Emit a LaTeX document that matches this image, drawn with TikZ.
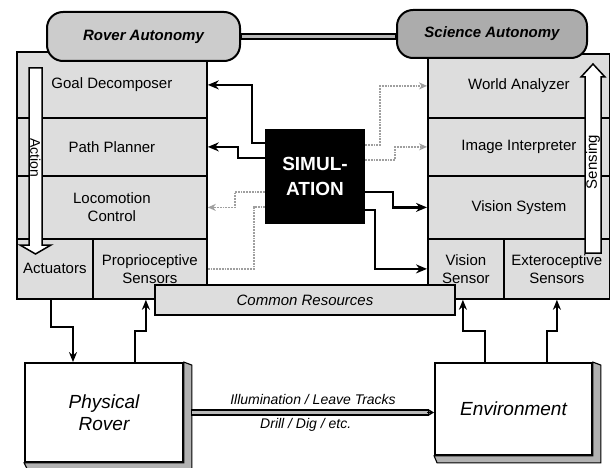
\documentclass[tikz,border=0pt]{standalone}
\usepackage{fontspec}
\setmainfont{Liberation Sans}
\usetikzlibrary{arrows.meta,calc}
\newcommand\lblfont{\fontsize{15}{18}\selectfont}
\begin{document}
\begin{tikzpicture}[x=1pt,y=-1pt,
 cell/.style={draw, line width=1.8pt, fill=gray!27, inner sep=0pt, align=center, font=\lblfont, anchor=north west},
 pill/.style={draw, line width=2pt, rounded corners=16pt, inner sep=0pt, font=\lblfont\bfseries\itshape},
 solidarr/.style={line width=2.3pt, -{Stealth[length=11pt,width=9pt]}},
 dotline/.style={gray!75, line width=1.8pt, densely dotted},
 dotarr/.style={dotline, -{Stealth[length=8pt,width=7pt]}},
 linkarr/.style={line width=2pt, -{Stealth[length=10pt,width=8pt]}},
 flowarrow/.style={draw=black, line width=1.5pt, fill=white},
 band/.style={draw=black, line width=1.1pt, fill=gray!55},
 bigbox/.style={draw, line width=1.8pt, fill=white, inner sep=0pt, align=center, font=\fontsize{19}{22}\selectfont\itshape},
 shade/.style={draw, line width=1.1pt, fill=gray!60},
 conlabel/.style={font=\fontsize{14}{16}\selectfont\itshape, inner sep=3pt}
]
\useasboundingbox (0,0) rectangle (610,468);

% left stack
\node[cell, minimum width=190pt, minimum height=66pt] (goal) at (16,51) {Goal Decomposer};
\node[cell, minimum width=190pt, minimum height=58pt] (path) at (16,117) {Path Planner};
\node[cell, minimum width=190pt, minimum height=63pt] (loco) at (16,175) {Locomotion\\Control};
\node[cell, minimum width=76pt, minimum height=60pt] (act) at (16,238) {Actuators};
\node[cell, minimum width=114pt, minimum height=60pt] (prop) at (92,238) {Proprioceptive\\Sensors};

% right stack
\node[cell, minimum width=182pt, minimum height=64pt] (world) at (427,53) {World Analyzer};
\node[cell, minimum width=182pt, minimum height=58pt] (image) at (427,117) {Image Interpreter};
\node[cell, minimum width=182pt, minimum height=63pt] (vsys) at (427,175) {Vision System};
\node[cell, minimum width=76pt, minimum height=60pt] (vsens) at (427,238) {Vision\\Sensor};
\node[cell, minimum width=106pt, minimum height=60pt] (extero) at (503,238) {Exteroceptive\\Sensors};

% action / sensing arrows
\draw[flowarrow] (29,68) -- (42,68) -- (42,245) -- (51,245) -- (35.5,254) -- (20,245) -- (29,245) -- cycle;
\node[rotate=-90, font=\fontsize{14}{14}\selectfont, inner sep=0pt] (actlbl) at (35.5,158) {Action};
\draw[flowarrow] (585,253) -- (601,253) -- (601,77) -- (605,77) -- (593,64) -- (581,77) -- (585,77) -- cycle;
\node[rotate=90, font=\fontsize{15}{15}\selectfont, inner sep=0pt] (senslbl) at (593,162) {Sensing};

% autonomy pills
\node[pill, fill=gray!40, minimum width=193pt, minimum height=49pt] (rauto) at (143.5,36.5) {Rover Autonomy};
\node[pill, fill=gray!65, minimum width=190pt, minimum height=48pt] (sauto) at (492,34) {Science Autonomy};
\path[band] ([yshift=2.5pt]rauto.east) rectangle ([yshift=-2.5pt]rauto.east -| sauto.west);

% common resources
\node[draw, line width=1.8pt, fill=gray!27, minimum width=300pt, minimum height=30pt, inner sep=0pt,
      font=\lblfont\itshape] (common) at (305,300) {Common Resources};

% simulation
\node[fill=black, text=white, minimum width=100pt, minimum height=95pt, inner sep=0pt, align=center,
      font=\fontsize{19}{25}\selectfont\bfseries] (sim) at (315,176.5) {SIMUL-\\ATION};

% simulation connectors, left
\draw[solidarr] ([yshift=-14pt]sim.north west) -- ++(-13,0) |- (goal.east);
\draw[solidarr] ([yshift=-29pt]sim.north west) -- ++(-27,0) |- (path.east);
\draw[dotarr] ([yshift=-63pt]sim.north west) -- ++(-30,0) |- (loco.east);
\draw[dotline] (prop.east) -- ++(46,0) |- ([yshift=-78pt]sim.north west);
% simulation connectors, right
\draw[dotarr] ([yshift=-16pt]sim.north east) -- ++(15,0) |- (world.west);
\draw[dotarr] ([yshift=-31pt]sim.north east) -- ++(30,0) |- (image.west);
\draw[solidarr] ([yshift=-63pt]sim.north east) -- ++(28,0) |- (vsys.west);
\draw[solidarr] ([yshift=-81pt]sim.north east) -- ++(10,0) |- (vsens.west);

% physical rover and environment
\node[bigbox, minimum width=158pt, minimum height=99pt] (rover) at (104,412.5) {Physical\\Rover};
\path[shade] (rover.north east) -- ([shift={(8pt,-3pt)}]rover.north east) -- ([shift={(8pt,-6pt)}]rover.south east)
   -- ([shift={(3pt,-6pt)}]rover.south west) -- (rover.south west) -- (rover.south east) -- cycle;
\node[bigbox, minimum width=157pt, minimum height=92pt] (env) at (513.5,409) {Environment};
\path[shade] (env.north east) -- ([shift={(8pt,-3pt)}]env.north east) -- ([shift={(8pt,-7pt)}]env.south east)
   -- ([shift={(3pt,-7pt)}]env.south west) -- (env.south west) -- (env.south east) -- cycle;

% illumination link
\path[band] ([xshift=8pt,yshift=2.5pt]rover.east) rectangle ([xshift=-6pt,yshift=-2.5pt]rover.east -| env.west);
\draw[line width=0.9pt, -{Stealth[length=6pt,width=7pt]}] ([xshift=-7pt]rover.east -| env.west) -- (rover.east -| env.west);
\path ([xshift=8pt]rover.east) -- (rover.east -| env.west)
   node[conlabel, pos=0.5, above=5pt] (illum) {Illumination / Leave Tracks}
   node[conlabel, pos=0.47, below=3pt] (drill) {Drill / Dig / etc.};

% rover / environment to stacks
\draw[linkarr] ([xshift=-4pt]act.south) -- ++(0,27) -| ([xshift=-31pt]rover.north);
\draw[linkarr] ([xshift=31pt]rover.north) -- ++(0,-31) -| ([xshift=-4pt]prop.south);
\draw[linkarr] ([xshift=-28.5pt]env.north) -- ++(0,-31) -| ([xshift=-3pt]vsens.south);
\draw[linkarr] ([xshift=33.5pt]env.north) -- ++(0,-31) -| (extero.south);
\end{tikzpicture}
\end{document}
